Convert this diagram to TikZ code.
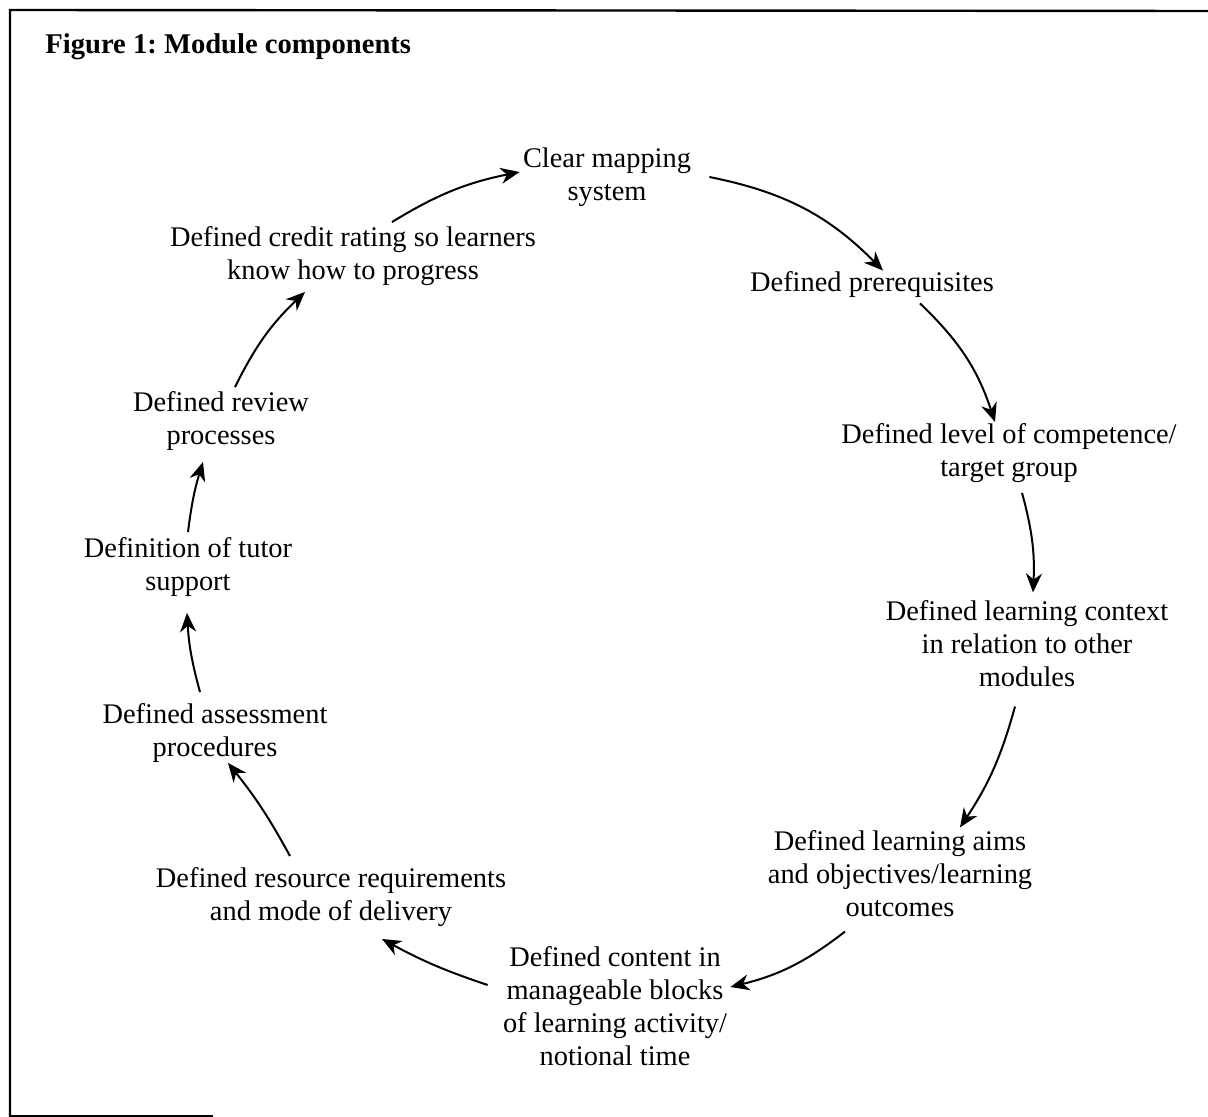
\documentclass[tikz,border=0pt]{standalone}
\usepackage{fontspec}
\setmainfont{Liberation Serif}
\usepackage{tikz}
\usetikzlibrary{arrows.meta,calc}
\frenchspacing

\begin{document}
\begin{tikzpicture}[x=0.5pt,y=0.5pt,
                every node/.style={align=center, inner sep=0pt, font=\fontsize{14.2}{16.5}\selectfont},
                link/.style={line width=1pt, -{Stealth[length=9.5pt,width=8pt,inset=3pt]}},
                frameline/.style={line width=1.2pt}]
            \useasboundingbox (0,0) rectangle (1208,-1117);
            \draw[frameline] (10,-1117) -- (10,-10) -- (1208,-11);
            \draw[line width=0.8pt] (10,-1116) -- (213,-1116);
            \node[anchor=base west, font=\fontsize{14.3}{17}\selectfont\bfseries] (title) at (45,-54) {Figure 1: Module components};
            \node (map) at (607,-177) {Clear mapping\\system};
            \node (prereq) at (872,-285) {Defined prerequisites};
            \node (level) at (1009,-453) {Defined level of competence/\\target group};
            \node (context) at (1027,-644) {Defined learning context\\in relation to other\\modules};
            \node (aims) at (900,-874) {Defined learning aims\\and objectives/learning\\outcomes};
            \node (content) at (615,-1006) {Defined content in\\manageable blocks\\of learning activity/\\notional time};
            \node (resource) at (331,-897) {Defined resource requirements\\and mode of delivery};
            \node (assess) at (215,-733) {Defined assessment\\procedures};
            \node (tutor) at (188,-567) {Definition of tutor\\support};
            \node (review) at (221,-421) {Defined review\\processes};
            \node (credit) at (353,-256) {Defined credit rating so learners\\know how to progress};
            \draw[link] ($(credit.north)+(39,4)$) to[bend left=10] ($(map.west)+(-3,5)$);
            \draw[link] ($(map.east)+(18,0)$) to[bend left=17] ($(prereq.north)+(11,1)$);
            \draw[link] ($(prereq.south)+(48,-5)$) to[bend left=14] ($(level.north)+(-14,1)$);
            \draw[link] ($(level.south)+(13,-10)$) to[bend left=9] ($(context.north)+(6,8)$);
            \draw[link] ($(context.south)+(-12,-19)$) to[bend left=9] ($(aims.north)+(60,3)$);
            \draw[link] ($(aims.south)+(-55,-14)$) to[bend left=12] ($(content.east)+(3,19)$);
            \draw[link] ($(content.west)+(-15,21)$) to[bend left=5] ($(resource.south)+(51,-12)$);
            \draw[link] ($(resource.north)+(-41,11)$) to[bend right=5] ($(assess.south)+(13,0)$);
            \draw[link] ($(assess.north)+(-15,11)$) to[bend left=6] ($(tutor.south)+(-1,-16)$);
            \draw[link] ($(tutor.north)+(0,5)$) to[bend left=5] ($(review.south)+(-18,-11)$);
            \draw[link] ($(review.north)+(14,4)$) to[bend left=10] ($(credit.south)+(-48,-6)$);
        \end{tikzpicture}
\end{document}
